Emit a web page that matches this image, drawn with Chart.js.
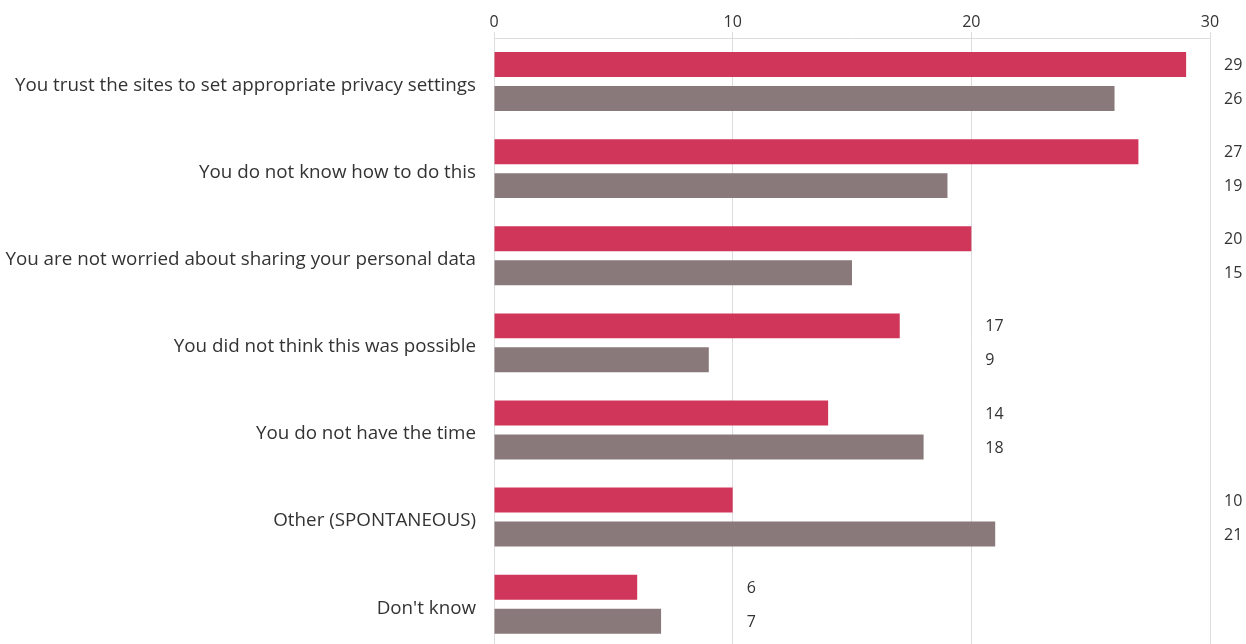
<!DOCTYPE html>
<html>
<head>
<meta charset="utf-8">
<script src="https://cdn.jsdelivr.net/npm/chart.js@4/dist/chart.umd.min.js"></script>
<style>
  html, body { margin: 0; padding: 0; background: #fff; overflow: hidden; }
  #wrap { width: 1246px; height: 677px; }
</style>
</head>
<body>
<div id="wrap"><canvas id="myChart" width="1246" height="677"></canvas></div>
<script>
// categories (answers) and the two series
const categories = [
    'You trust the sites to set appropriate privacy settings',
    'You do not know how to do this',
    'You are not worried about sharing your personal data',
    'You did not think this was possible',
    'You do not have the time',
    'Other (SPONTANEOUS)',
    "Don't know"
];
const seriesA = [29, 27, 20, 17, 14, 10, 6];
const seriesB = [26, 19, 15, 9, 18, 21, 7];
const xTicks = [0, 10, 20, 30];

const FONT = "'Open Sans', sans-serif";
const TEXT = '#333333';

// value labels sit just right of the next gridline past the bigger bar of the pair
const pairLabels = {
    id: 'pairLabels',
    afterDatasetsDraw(chart) {
        const ctx = chart.ctx;
        const xs = chart.scales.x;
        ctx.save();
        ctx.font = '16px ' + FONT;
        ctx.fillStyle = TEXT;
        ctx.textAlign = 'left';
        ctx.textBaseline = 'middle';
        categories.forEach((c, i) => {
            let big = Math.max(seriesA[i], seriesB[i]);
            let grid = (Math.floor(big / 10) + 1) * 10;
            let x = xs.getPixelForValue(grid) + 14;
            chart.data.datasets.forEach((ds, d) => {
                let bar = chart.getDatasetMeta(d).data[i];
                ctx.fillText(String(ds.data[i]), x, bar.y + 1);
            });
        });
        ctx.restore();
    }
};

const data = {
    labels: categories,
    datasets: [{
        label: 'A',
        data: seriesA,
        backgroundColor: 'rgb(207,54,89)',
        categoryPercentage: 0.78,
        barPercentage: 0.735
    }, {
        label: 'B',
        data: seriesB,
        backgroundColor: 'rgb(137,121,123)',
        categoryPercentage: 0.78,
        barPercentage: 0.735
    }]
};

const config = {
    type: 'bar',
    data: data,
    options: {
        indexAxis: 'y',
        responsive: false,
        animation: false,
        layout: { padding: { left: 0, right: 36, top: 0, bottom: 0 } },
        plugins: {
            legend: { display: false },
            tooltip: { enabled: false }
        },
        scales: {
            x: {
                position: 'top',
                min: 0,
                max: 30,
                afterBuildTicks: (scale) => { scale.ticks = xTicks.map(v => ({ value: v })); },
                afterFit: (scale) => { scale.height = 38; },
                grid: { color: '#dddddd', tickLength: 6, drawTicks: true },
                border: { display: true, color: '#dddddd' },
                ticks: { color: TEXT, font: { family: FONT, size: 16 }, padding: 0 }
            },
            y: {
                afterFit: (scale) => { scale.width = 494; },
                grid: { display: false, drawTicks: false },
                border: { display: false },
                ticks: { color: TEXT, font: { family: FONT, size: 18.8 }, padding: 18, labelOffset: 4 }
            }
        }
    },
    plugins: [pairLabels]
};

const myChart = new Chart(document.getElementById('myChart'), config);
</script>
</body>
</html>
